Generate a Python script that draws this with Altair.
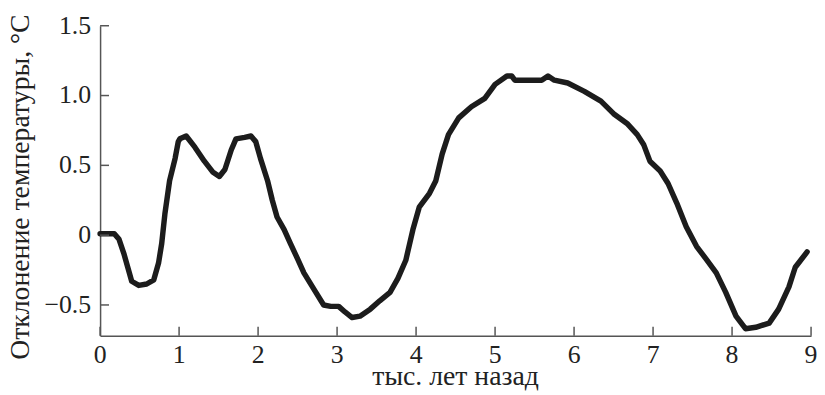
import altair as alt
import pandas as pd

# Time, thousand years ago
years = [0.00, 0.18, 0.24, 0.30, 0.36, 0.40, 0.49, 0.59, 0.68, 0.74, 0.78, 0.82, 0.88, 0.95, 0.99,
         1.01, 1.09, 1.20, 1.32, 1.43, 1.51, 1.58, 1.66, 1.72, 1.83, 1.91, 1.97, 2.03, 2.12, 2.18,
         2.24, 2.33, 2.41, 2.50, 2.58, 2.71, 2.83, 2.92, 3.02, 3.10, 3.19, 3.29, 3.42, 3.54, 3.67,
         3.77, 3.87, 3.96, 4.04, 4.17, 4.25, 4.33, 4.41, 4.54, 4.70, 4.87, 5.00, 5.15, 5.21, 5.25,
         5.59, 5.67, 5.75, 5.92, 6.13, 6.34, 6.50, 6.67, 6.80, 6.88, 6.96, 7.09, 7.19, 7.30, 7.42,
         7.55, 7.67, 7.80, 7.92, 8.05, 8.17, 8.30, 8.47, 8.59, 8.72, 8.80, 8.95]
# Temperature anomaly, °C
anomaly = [0.01, 0.01, -0.03, -0.13, -0.25, -0.33, -0.36, -0.35, -0.32, -0.20, -0.06, 0.15, 0.39, 0.55, 0.67,
           0.69, 0.71, 0.63, 0.53, 0.45, 0.42, 0.47, 0.61, 0.69, 0.70, 0.71, 0.67, 0.55, 0.39, 0.25,
           0.13, 0.04, -0.06, -0.17, -0.27, -0.39, -0.50, -0.51, -0.51, -0.55, -0.59, -0.58, -0.53, -0.47, -0.41,
           -0.31, -0.18, 0.04, 0.20, 0.30, 0.39, 0.58, 0.72, 0.84, 0.92, 0.98, 1.08, 1.14, 1.14, 1.11,
           1.11, 1.14, 1.11, 1.09, 1.03, 0.96, 0.87, 0.80, 0.72, 0.65, 0.53, 0.46, 0.37, 0.23, 0.06,
           -0.08, -0.17, -0.27, -0.41, -0.58, -0.67, -0.66, -0.63, -0.53, -0.37, -0.23, -0.12]

x_ticks = [0, 1, 2, 3, 4, 5, 6, 7, 8, 9]
x_labels = ["0", "1", "2", "3", "4", "5", "6", "7", "8", "9"]
y_ticks = [-0.5, 0, 0.5, 1.0, 1.5]
y_labels = ["−0.5", "0", "0.5", "1.0", "1.5"]

X_TITLE = "тыс. лет назад"
Y_TITLE = "Отклонение температуры, °C"

df = pd.DataFrame({"t": years, "dT": anomaly})
xt = pd.DataFrame({"t": x_ticks, "lab": x_labels})
yt = pd.DataFrame({"dT": y_ticks, "lab": y_labels})
titles = pd.DataFrame({"xt": [X_TITLE], "yt": [Y_TITLE]})

FONT = "Liberation Serif"
AXIS_GRAY = "#555555"
TEXT = "#222222"
W, H = 718, 313

xscale = alt.Scale(domain=[0, 9], nice=False, zero=False)
yscale = alt.Scale(domain=[-0.72, 1.5], nice=False, zero=False)
AX = alt.Axis(labels=False, ticks=False, grid=False, title=None,
              domainColor=AXIS_GRAY, domainWidth=1.5)
AY = alt.Axis(labels=False, ticks=False, grid=False, title=None,
              domainColor=AXIS_GRAY, domainWidth=1.5)

line = alt.Chart(df).mark_line(
    color="#1c1c1c", strokeWidth=5.5, strokeJoin="round", strokeCap="round"
).encode(
    x=alt.X("t:Q", scale=xscale, axis=AX),
    y=alt.Y("dT:Q", scale=yscale, axis=AY),
)

# inward tick marks
xticks = alt.Chart(xt).mark_rule(color=AXIS_GRAY, strokeWidth=1.5).encode(
    x=alt.X("t:Q", scale=xscale, axis=AX),
    y=alt.value(H), y2=alt.value(H - 9),
)
yticks = alt.Chart(yt).mark_rule(color=AXIS_GRAY, strokeWidth=1.5).encode(
    y=alt.Y("dT:Q", scale=yscale, axis=AY),
    x=alt.value(0), x2=alt.value(9),
)

# tick labels
xlab = alt.Chart(xt).mark_text(
    font=FONT, fontSize=26, color=TEXT, align="center", baseline="alphabetic"
).encode(
    x=alt.X("t:Q", scale=xscale, axis=AX),
    y=alt.value(H + 28),
    text="lab:N",
)
ylab = alt.Chart(yt).mark_text(
    font=FONT, fontSize=26, color=TEXT, align="right", baseline="middle"
).encode(
    y=alt.Y("dT:Q", scale=yscale, axis=AY),
    x=alt.value(-9),
    text="lab:N",
)

# axis titles
xtitle = alt.Chart(titles).mark_text(
    font=FONT, fontSize=28, color=TEXT, align="center", baseline="alphabetic"
).encode(x=alt.value(W / 2), y=alt.value(H + 50), text="xt:N")
ytitle = alt.Chart(titles).mark_text(
    font=FONT, fontSize=28, color=TEXT, align="center", baseline="alphabetic", angle=270
).encode(x=alt.value(-72), y=alt.value(163), text="yt:N")

chart = alt.layer(line, xticks, yticks, xlab, ylab, xtitle, ytitle).properties(
    width=W, height=H,
    autosize=alt.AutoSizeParams(type="none"),
    padding={"left": 93, "top": 16, "right": 6, "bottom": 58},
).configure(
    font=FONT,
).configure_view(
    stroke=None
)

chart.save("out.html", embed_options={"renderer": "svg", "actions": False})
